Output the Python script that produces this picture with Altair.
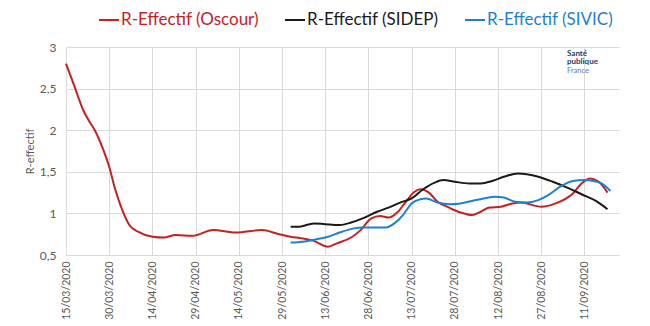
import altair as alt
import pandas as pd

# ---- data ----
oscour_dates = ["2020-03-15", "2020-03-18", "2020-03-21", "2020-03-23", "2020-03-25", "2020-03-28",
                "2020-03-30", "2020-04-01", "2020-04-03", "2020-04-06", "2020-04-09", "2020-04-14",
                "2020-04-18", "2020-04-22", "2020-04-28", "2020-05-05", "2020-05-13", "2020-05-22",
                "2020-05-28", "2020-06-01", "2020-06-05", "2020-06-09", "2020-06-14", "2020-06-17",
                "2020-06-22", "2020-06-25", "2020-06-29", "2020-07-02", "2020-07-05", "2020-07-08",
                "2020-07-11", "2020-07-14", "2020-07-16", "2020-07-19", "2020-07-22", "2020-07-26",
                "2020-07-30", "2020-08-03", "2020-08-06", "2020-08-09", "2020-08-13", "2020-08-17",
                "2020-08-20", "2020-08-27", "2020-09-01", "2020-09-07", "2020-09-10", "2020-09-13",
                "2020-09-16", "2020-09-19"]
oscour_values = [2.80, 2.52, 2.24, 2.11, 2.00, 1.76,
                 1.56, 1.30, 1.09, 0.86, 0.78, 0.72,
                 0.71, 0.74, 0.73, 0.80, 0.77, 0.80,
                 0.75, 0.72, 0.70, 0.67, 0.60, 0.64,
                 0.71, 0.79, 0.94, 0.97, 0.95, 1.01,
                 1.14, 1.26, 1.29, 1.25, 1.14, 1.07,
                 1.01, 0.98, 1.02, 1.07, 1.08, 1.12,
                 1.13, 1.08, 1.12, 1.24, 1.36, 1.42,
                 1.38, 1.25]

sidep_dates = ["2020-06-01", "2020-06-04", "2020-06-09", "2020-06-13", "2020-06-18", "2020-06-22",
               "2020-06-26", "2020-07-01", "2020-07-05", "2020-07-09", "2020-07-13", "2020-07-17",
               "2020-07-21", "2020-07-24", "2020-07-28", "2020-08-02", "2020-08-06", "2020-08-10",
               "2020-08-14", "2020-08-19", "2020-08-22", "2020-08-26", "2020-08-31", "2020-09-05",
               "2020-09-10", "2020-09-15", "2020-09-19"]
sidep_values = [0.84, 0.84, 0.88, 0.87, 0.86, 0.89,
                0.94, 1.02, 1.07, 1.13, 1.18, 1.29,
                1.37, 1.40, 1.38, 1.36, 1.36, 1.39,
                1.44, 1.48, 1.47, 1.44, 1.38, 1.31,
                1.23, 1.15, 1.05]

sivic_dates = ["2020-06-01", "2020-06-05", "2020-06-10", "2020-06-14", "2020-06-18", "2020-06-23",
               "2020-06-26", "2020-06-30", "2020-07-04", "2020-07-07", "2020-07-10", "2020-07-13",
               "2020-07-16", "2020-07-18", "2020-07-22", "2020-07-26", "2020-07-30", "2020-08-03",
               "2020-08-07", "2020-08-11", "2020-08-14", "2020-08-18", "2020-08-22", "2020-08-26",
               "2020-08-29", "2020-09-03", "2020-09-07", "2020-09-11", "2020-09-14", "2020-09-17",
               "2020-09-20"]
sivic_values = [0.65, 0.66, 0.69, 0.72, 0.77, 0.82,
                0.83, 0.83, 0.83, 0.88, 0.98, 1.12,
                1.17, 1.18, 1.13, 1.11, 1.12, 1.15,
                1.18, 1.20, 1.19, 1.14, 1.13, 1.16,
                1.21, 1.33, 1.39, 1.40, 1.39, 1.36,
                1.27]

series_names = ["R-Effectif (Oscour)", "R-Effectif (SIDEP)", "R-Effectif (SIVIC)"]
series_colors = ["#c4211f", "#1a1a1a", "#1f80d0"]

tick_dates = [(3, 15), (3, 30), (4, 14), (4, 29), (5, 14), (5, 29), (6, 13),
              (6, 28), (7, 13), (7, 28), (8, 12), (8, 27), (9, 11)]
y_ticks = [0.5, 1, 1.5, 2, 2.5, 3]

logo_lines = ["Santé", "publique", "France"]

# ---- build table ----
rows = []
for name, ds, vs in zip(series_names, [oscour_dates, sidep_dates, sivic_dates],
                        [oscour_values, sidep_values, sivic_values]):
    for d, v in zip(ds, vs):
        rows.append({"date": d, "value": v, "series": name})
df = pd.DataFrame(rows)

FONT = "Lato"
GREY = "#595959"

label_color_expr = (
    f"datum.label == '{series_names[0]}' ? '{series_colors[0]}' : "
    f"datum.label == '{series_names[1]}' ? '{series_colors[1]}' : '{series_colors[2]}'"
)

lines = alt.Chart(df).mark_line(interpolate="monotone", strokeWidth=2).encode(
    x=alt.X(
        "date:T",
        scale=alt.Scale(
            type="utc",
            domain=[alt.DateTime(year=2020, month=3, date=15, utc=True),
                    alt.DateTime(year=2020, month=9, date=23, utc=True)],
        ),
        axis=alt.Axis(
            values=[alt.DateTime(year=2020, month=m, date=d, utc=True) for m, d in tick_dates],
            labelExpr="utcFormat(datum.value, '%d/%m/%Y')",
            labelAngle=-90,
            labelFontSize=10.5,
            labelColor=GREY,
            labelFont=FONT,
            labelPadding=6,
            ticks=False,
            grid=True,
            gridColor="#d9d9d9",
            domainColor="#d9d9d9",
            title=None,
        ),
    ),
    y=alt.Y(
        "value:Q",
        scale=alt.Scale(domain=[0.5, 3], nice=False, zero=False),
        axis=alt.Axis(
            values=y_ticks,
            labelExpr="replace(format(datum.value, '~g'), '.', ',')",
            labelFontSize=12,
            labelColor=GREY,
            labelFont=FONT,
            labelPadding=10,
            ticks=False,
            domain=False,
            grid=True,
            gridColor="#d9d9d9",
            title="R-effectif",
            titleFont=FONT,
            titleFontSize=11,
            titleFontWeight="normal",
            titleColor=GREY,
            titlePadding=4,
        ),
    ),
    color=alt.Color(
        "series:N",
        scale=alt.Scale(domain=series_names, range=series_colors),
        legend=alt.Legend(
            title=None,
            orient="none",
            direction="horizontal",
            legendX=32,
            legendY=-38,
            symbolType="stroke",
            symbolSize=400,
            symbolStrokeWidth=2,
            labelFontSize=17,
            labelFont=FONT,
            labelOffset=1,
            columnPadding=22,
            labelColor=alt.ExprRef(expr=label_color_expr),
            labelLimit=300,
        ),
    ),
)

logo_s = alt.Chart(pd.DataFrame({"t": [logo_lines[0]]})).mark_text(
    align="left", baseline="middle", font=FONT, fontSize=8, fontWeight="bold", color="#1d3a6b"
).encode(x=alt.value(501), y=alt.value(6.5), text="t:N")
logo_p = alt.Chart(pd.DataFrame({"t": [logo_lines[1]]})).mark_text(
    align="left", baseline="middle", font=FONT, fontSize=8, fontWeight="bold", color="#1d3a6b"
).encode(x=alt.value(501), y=alt.value(15), text="t:N")
logo_f = alt.Chart(pd.DataFrame({"t": [logo_lines[2]]})).mark_text(
    align="left", baseline="middle", font=FONT, fontSize=7.5, color="#5a7ca6"
).encode(x=alt.value(501), y=alt.value(24), text="t:N")

chart = alt.layer(lines, logo_s, logo_p, logo_f).properties(
    width=553,
    height=208,
    autosize=alt.AutoSizeParams(type="none"),
    padding={"left": 66, "top": 47, "right": 31, "bottom": 71},
    background="white",
).configure_view(stroke=None)

chart.save("out.html", embed_options={"renderer": "svg", "actions": False})
